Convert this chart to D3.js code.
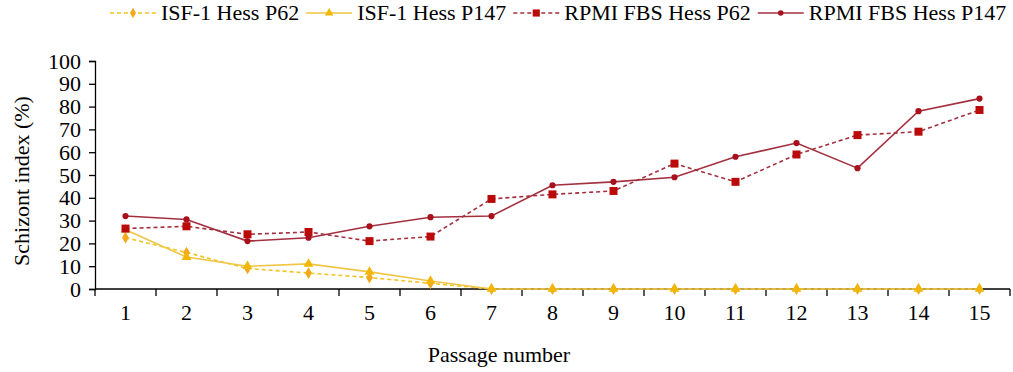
<!DOCTYPE html>
<html>
<head>
<meta charset="utf-8">
<script src="https://cdn.jsdelivr.net/npm/d3@7"></script>
<style>
  body { margin: 0; background: #fff; }
  svg { display: block; }
  svg text { font-family: "Liberation Serif", "Times New Roman", serif !important; }
</style>
</head>
<body>
<div id="chart"></div>
<script>
const width = 1013;
const height = 372;

// data
const passages = [1, 2, 3, 4, 5, 6, 7, 8, 9, 10, 11, 12, 13, 14, 15];
const yTicks = [0, 10, 20, 30, 40, 50, 60, 70, 80, 90, 100];
const isfP62 = [22.5, 16, 9, 7, 5, 2.5, 0, 0, 0, 0, 0, 0, 0, 0, 0];
const isfP147 = [26, 14, 10, 11, 7.5, 3.5, 0, 0, 0, 0, 0, 0, 0, 0, 0];
const rpmiP62 = [26.5, 27.5, 24, 25, 21, 23, 39.5, 41.5, 43, 55, 47, 59, 67.5, 69, 78.5];
const rpmiP147 = [32, 30.5, 21, 22.5, 27.5, 31.5, 32, 45.5, 47, 49, 58, 64, 53, 78, 83.5];

const series = [
  {name: "ISF-1 Hess P62", values: isfP62, line: "#f2c521", dash: "4,3", marker: "diamond", fill: "#f2a91c", size: 40},
  {name: "ISF-1 Hess P147", values: isfP147, line: "#f0c545", dash: null, marker: "triangle", fill: "#f2b705", size: 42},
  {name: "RPMI FBS Hess P62", values: rpmiP62, line: "#a3303f", dash: "4,3", marker: "square", fill: "#bb0a0a", size: 64},
  {name: "RPMI FBS Hess P147", values: rpmiP147, line: "#a3303f", dash: null, marker: "circle", fill: "#a8101c", size: 30}
];

const fontSize = 22;
const margin = {top: 61, right: 3, bottom: 83, left: 95};

const svg = d3.create("svg")
    .attr("width", width)
    .attr("height", height);

const x = d3.scaleBand()
    .domain(passages)
    .range([margin.left, width - margin.right]);

const y = d3.scaleLinear()
    .domain([0, 100])
    .range([height - margin.bottom, margin.top]);

const symbolType = {
  diamond: d3.symbolDiamond,
  triangle: d3.symbolTriangle,
  square: d3.symbolSquare,
  circle: d3.symbolCircle
};

// y axis
const yAxis = svg.append("g")
    .attr("transform", `translate(${margin.left},0)`)
    .call(d3.axisLeft(y).tickValues(yTicks).tickSize(6).tickPadding(8));
yAxis.select(".domain").attr("stroke", "#000").attr("stroke-width", 1.3);
yAxis.selectAll(".tick line").attr("stroke", "#000").attr("stroke-width", 1.3);
yAxis.selectAll("text")
    .attr("fill", "#000")
    .attr("font-size", fontSize);

// x axis: ticks at band edges
const xAxisG = svg.append("g")
    .attr("transform", `translate(0,${y(0)})`);
xAxisG.append("line")
    .attr("x1", margin.left).attr("x2", width - margin.right)
    .attr("stroke", "#000").attr("stroke-width", 1.5);
const edges = passages.map(p => x(p)).concat([x(passages[passages.length - 1]) + x.bandwidth()]);
xAxisG.selectAll(".edge")
    .data(edges)
    .join("line")
    .attr("x1", d => d).attr("x2", d => d)
    .attr("y1", 0).attr("y2", 7)
    .attr("stroke", "#000").attr("stroke-width", 1.3);
xAxisG.selectAll(".lbl")
    .data(passages)
    .join("text")
    .attr("x", d => x(d) + x.bandwidth() / 2)
    .attr("y", 31)
    .attr("text-anchor", "middle")
    .attr("font-size", fontSize)
    .attr("fill", "#000")
    .text(d => d);

// axis titles
svg.append("text")
    .attr("x", 499)
    .attr("y", 362)
    .attr("text-anchor", "middle")
    .attr("font-size", fontSize)
    .text("Passage number");

svg.append("text")
    .attr("transform", `translate(29,181) rotate(-90)`)
    .attr("text-anchor", "middle")
    .attr("font-size", fontSize)
    .text("Schizont index (%)");

// lines and markers
const cx = i => x(passages[i]) + x.bandwidth() / 2;
const line = d3.line()
    .x((d, i) => cx(i))
    .y(d => y(d));

const plot = svg.append("g");
series.forEach(s => {
  plot.append("path")
      .datum(s.values)
      .attr("fill", "none")
      .attr("stroke", s.line)
      .attr("stroke-width", 1.6)
      .attr("stroke-dasharray", s.dash)
      .attr("d", line);
});
series.forEach(s => {
  plot.append("g")
      .selectAll("path")
      .data(s.values)
      .join("path")
      .attr("transform", (d, i) => `translate(${cx(i)},${y(d)})`)
      .attr("d", d3.symbol(symbolType[s.marker], s.size))
      .attr("fill", s.fill);
});

// legend
const legend = svg.append("g").attr("transform", "translate(0,13)");
series.forEach(s => {
  const g = legend.append("g");
  g.append("line")
      .attr("x1", 0).attr("x2", 46)
      .attr("stroke", s.line)
      .attr("stroke-width", 1.6)
      .attr("stroke-dasharray", s.dash);
  g.append("path")
      .attr("transform", "translate(23,0)")
      .attr("d", d3.symbol(symbolType[s.marker], s.size * 0.8))
      .attr("fill", s.fill);
  g.append("text")
      .attr("x", 51)
      .attr("y", 7)
      .attr("font-size", fontSize)
      .text(s.name);
});

document.getElementById("chart").appendChild(svg.node());

// place legend items once text can be measured
{
  let px = 110;
  legend.selectAll("g").each(function () {
    const g = d3.select(this);
    g.attr("transform", `translate(${px},0)`);
    px += 51 + g.select("text").node().getComputedTextLength() + 7;
  });
}
</script>
</body>
</html>
